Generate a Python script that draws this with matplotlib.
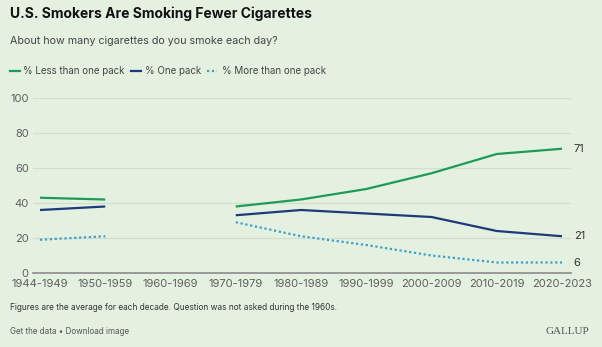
import numpy as np
import matplotlib
matplotlib.use("Agg")
import matplotlib.pyplot as plt

decades = ["1944-1949", "1950-1959", "1960-1969", "1970-1979", "1980-1989",
           "1990-1999", "2000-2009", "2010-2019", "2020-2023"]
less_than_one = [43, 42, None, 38, 42, 48, 57, 68, 71]
one_pack = [36, 38, None, 33, 36, 34, 32, 24, 21]
more_than_one = [19, 21, None, 29, 21, 16, 10, 6, 6]

series_labels = ["% Less than one pack", "% One pack", "% More than one pack"]
colors = ["#1f9a57", "#1e3a78", "#3a9fc9"]
styles = ["-", "-", (0, (1, 1.2))]

BG = "#e4f1e1"
plt.rcParams["font.family"] = ["Inter", "DejaVu Sans"]

fig = plt.figure(figsize=(6.02, 3.47), dpi=100, facecolor=BG)
ax = fig.add_axes([33 / 602, 1 - 273 / 347, 538 / 602, (273 - 98) / 347])
ax.set_facecolor(BG)

x = np.arange(len(decades))
series = [less_than_one, one_pack, more_than_one]
for vals, c, ls, lab in zip(series, colors, styles, series_labels):
    y = np.array([np.nan if v is None else v for v in vals], dtype=float)
    ax.plot(x, y, color=c, lw=1.6, ls=ls, label=lab, solid_capstyle="butt")
    ax.text(x[-1] + 0.18, y[-1], f"{int(y[-1])}", va="center", ha="left",
            fontsize=8, color="#333333")

ax.set_xlim(-7 / 65.25, 8 + 9 / 65.25)
ax.set_ylim(0, 100)
ax.set_yticks(range(0, 101, 20))
ax.set_xticks(x)
ax.set_xticklabels(decades)
ax.grid(axis="y", color="#d2dfcf", lw=0.9)
ax.set_axisbelow(True)
for s in ["top", "right", "left"]:
    ax.spines[s].set_visible(False)
ax.spines["bottom"].set_color("#8c8c8c")
ax.spines["bottom"].set_linewidth(1.2)
ax.tick_params(axis="both", length=0, labelsize=8, labelcolor="#5e5e5e")
ax.tick_params(axis="y", pad=3)
ax.tick_params(axis="x", pad=4)

# Title, subtitle and legend
fig.text(10 / 602, 1 - 14 / 347, "U.S. Smokers Are Smoking Fewer Cigarettes",
         fontsize=10, fontweight="bold", color="#111111", va="center", ha="left")
fig.text(10 / 602, 1 - 41 / 347, "About how many cigarettes do you smoke each day?",
         fontsize=7.7, color="#444444", va="center", ha="left")

leg_items = [(10, 23), (131, 145), (207, 222)]
ly = 1 - 71 / 347
for (lx, tx), c, ls, lab in zip(leg_items, colors, styles, series_labels):
    fig.add_artist(plt.Line2D([lx / 602, (lx + 10) / 602], [ly, ly], color=c,
                              lw=1.6, ls=ls, transform=fig.transFigure))
    fig.text(tx / 602, ly, lab, fontsize=7.0, color="#444444", va="center", ha="left")

# Footer
fig.text(10 / 602, 1 - 307.5 / 347,
         "Figures are the average for each decade. Question was not asked during the 1960s.",
         fontsize=6.0, color="#333333", va="center", ha="left")
fig.text(10 / 602, 1 - 331 / 347, "Get the data \u2022 Download image",
         fontsize=5.8, color="#555555", va="center", ha="left")
fig.text(589 / 602, 1 - 331 / 347, "GALLUP", fontsize=8, color="#555555",
         va="center", ha="right", family=["Liberation Serif", "DejaVu Serif"])

fig.savefig("out.png", dpi=100, facecolor=BG)
